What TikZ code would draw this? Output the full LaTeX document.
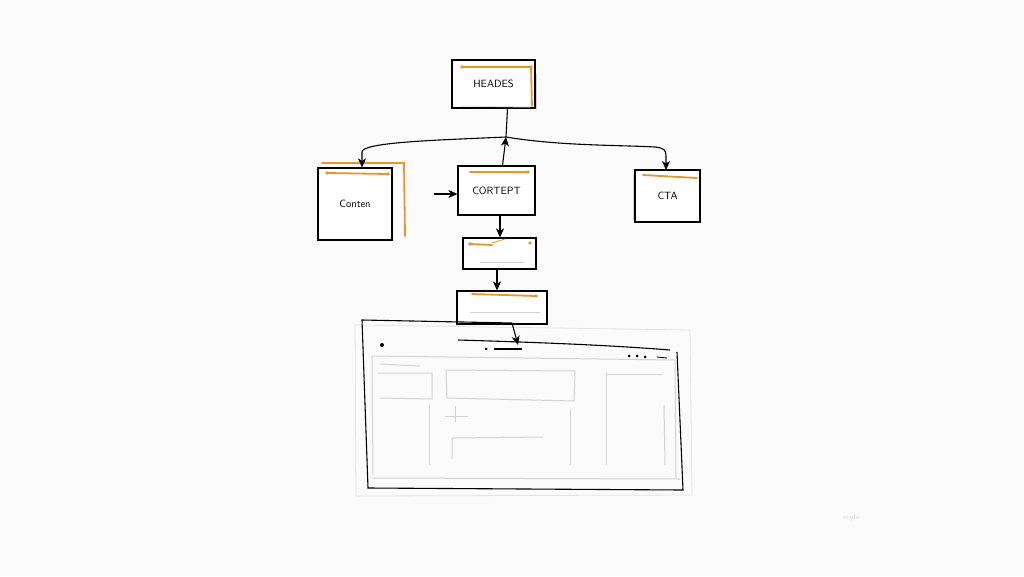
\documentclass[tikz,border=0pt]{standalone}
\usetikzlibrary{arrows.meta}
\definecolor{org}{HTML}{E8952C}
\definecolor{lgr}{HTML}{D2D2D2}
\definecolor{vlgr}{HTML}{E4E4E4}
\definecolor{bg}{HTML}{FBFBFB}
\tikzset{
  box/.style={draw=black, line width=1.2pt, fill=white, inner sep=0pt, font=\sffamily\fontsize{10.5}{12}\selectfont},
  arr/.style={line width=1.1pt, -{Stealth[length=9pt,width=8pt,inset=2.5pt]}},
  ln/.style={line width=1.1pt},
  oline/.style={draw=org, line width=1.8pt, line cap=round},
  gline/.style={draw=lgr, line width=1pt},
  dotb/.style={fill=black, circle, inner sep=0pt, minimum size=4pt},
}
\begin{document}
\begin{tikzpicture}[x=1pt,y=-1pt]
\fill[bg] (0,0) rectangle (1024,576);
\useasboundingbox (0,0) rectangle (1024,576);

% boxes
\node[box, minimum width=83pt, minimum height=48pt] (header) at (493.5,84) {HEADES};
\node[box, minimum width=74pt, minimum height=72pt] (conten) at (355,204) {Conten};
\node[box, minimum width=77pt, minimum height=49pt] (content) at (496.5,190.5) {CORTEPT};
\node[box, minimum width=65pt, minimum height=52pt] (cta) at (667.5,196) {CTA};
\node[box, minimum width=73pt, minimum height=31pt] (b1) at (499.5,253.5) {};
\node[box, minimum width=90pt, minimum height=33pt] (b2) at (502,307.5) {};

% orange accents
\draw[oline] (462,67) -- (531,67) -- (532,106);
\fill[org] (462,67) circle (1.8pt) (531,67) circle (1.8pt);
\draw[oline] (322,163) -- (404,163) -- (405,236);
\draw[oline] (327,173) -- (388,174);
\fill[org] (327,173) circle (1.8pt) (388,174) circle (1.8pt);
\draw[oline] (470,172) -- (528,172);
\fill[org] (528,172) circle (1.8pt);
\draw[oline] (643,175) -- (697,178);
\draw[oline] (470,244) -- (492,245);
\fill[org] (470,244) circle (1.8pt) (530,243) circle (1.8pt);
\draw[org, line width=0.8pt] (492,243) -- (505,239);
\draw[oline] (472,294) -- (536,296);
\fill[org] (536,296) circle (1.8pt);
\draw[gline] (480,262) -- (525,262);
\draw[gline] (470,312) -- (540,312);
\draw[gline] (633,173) -- (633,220);
\draw[gline] (536,74) -- (536,110);
\draw[draw=vlgr, line width=1pt] (462,106) -- (530,107);

% connectors
\coordinate (J) at (506,137);
\draw[ln] ([xshift=14pt]header.south) -- (J);
\draw[arr] ([xshift=6pt]content.north) -- (J);
\draw[arr] (J) .. controls (440,140) and (362,142) .. (362,152) -- ([xshift=7pt]conten.north);
\draw[arr] (J) .. controls (560,146) and (620,145) .. (655,147) .. controls (664,148) and (666,150) .. (666,156) -- (666,170);
\coordinate (in) at (434,194);
\draw[arr] (in) -- (in -| content.west);
\draw[arr] ([xshift=3.5pt]content.south) -- ([xshift=0.5pt]b1.north);
\draw[arr] ([xshift=-2.5pt]b1.south) -- ([xshift=-5pt]b2.north);

% browser window
\draw[draw=vlgr, line width=0.8pt] (355,325) -- (690,330) -- (692,495) -- (356,496) -- cycle;
\coordinate (br) at (458,340);
\coordinate (tl) at (512,323);
\draw[ln] (tl) -- (362,320) -- (368,488) -- (683,490) -- (677,352);
\coordinate (wa) at (518,345);
\draw[arr] (tl) -- (wa);
\draw[ln] (br) .. controls (560,343) and (620,346) .. (670,350);
\node[dotb] (d0) at (382,345) {};
\node[dotb, minimum size=3pt] (d1) at (486,349) {};
\draw[line width=1.3pt] (494,349) -- (522,349);
\node[dotb, minimum size=3pt] (d2) at (629,356) {};
\node[dotb, minimum size=3pt] (d3) at (637,356) {};
\node[dotb, minimum size=3pt] (d4) at (645,357) {};
\draw[line width=0.9pt] (657,357) -- (667,358);

% grey wireframe
\draw[gline] (372,356) -- (675,360);
\draw[gline] (372,356) -- (373,475);
\draw[gline] (380,364) -- (420,366);
\draw[gline] (378,373) -- (432,373) -- (432,399) -- (380,398);
\draw[gline] (446,370) -- (575,371) -- (574,401) -- (447,398) -- cycle;
\draw[gline] (606,373) -- (606,465);
\draw[gline] (606,374) -- (663,374);
\draw[gline] (664,405) -- (665,465);
\draw[gline] (429,405) -- (429,465);
\draw[gline] (445,416) -- (468,416);
\draw[gline] (455,406) -- (455,422);
\draw[gline] (452,459) -- (452,438) -- (543,437);
\draw[gline] (570,410) -- (570,465);
\draw[gline] (372,478) -- (680,479);
\draw[gline] (675,360) -- (676,478);

% signature
\node[text=lgr, font=\itshape\fontsize{7}{8}\selectfont] (sig) at (851,518) {mylo};
\end{tikzpicture}
\end{document}
